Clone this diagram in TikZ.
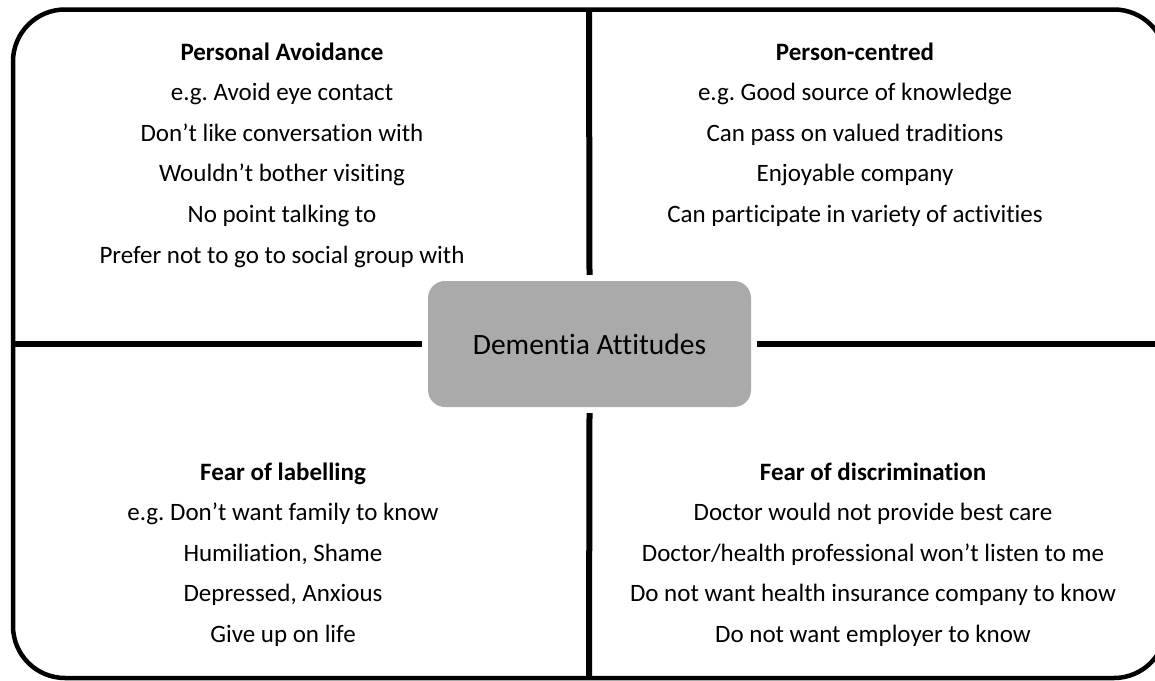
\documentclass[tikz,border=0pt]{standalone}
\usepackage{fontspec}
\setmainfont{Carlito}[Ligatures=NoCommon]
\begin{document}
\frenchspacing
\begin{tikzpicture}[x=1pt,y=-1pt,
  frame/.style={line width=4.5pt},
  divider/.style={line width=6pt},
  hub/.style={fill=hubgray, rounded corners=17pt, minimum width=323pt,
    minimum height=126pt, inner sep=0pt, font=\fontsize{29.5}{34}\selectfont},
  line/.style={anchor=base, inner sep=0pt, font=\fontsize{25}{30}\selectfont},
  head/.style={line, font=\fontsize{25}{30}\selectfont\bfseries}]
\definecolor{hubgray}{RGB}{170,170,170}
\useasboundingbox (0,0) rectangle (1155,680);
\clip (0,0) rectangle (1155,680);

% outer frame, its right side runs past the page edge
\draw[frame, rounded corners=52pt] (13,9.5) rectangle (1166,678);

% central hub
\node[hub] (c) at (589.5,344) {Dementia Attitudes};

% frame points where the dividers meet the outline
\coordinate (ftop) at (589,9.5);
\coordinate (fbot) at (589,678);
\coordinate (fleft) at (13,344);
\coordinate (fright) at (1166,344);

\draw[divider] (ftop) -- ([yshift=6pt]c.north);
\draw[divider] ([yshift=-6pt]c.south) -- (fbot);
\draw[divider] (fleft) -- ([xshift=-6pt]c.west);
\draw[divider] ([xshift=6pt]c.east) -- (fright);

% top left
\node[head] (pa0) at (282,60) {Personal Avoidance};
\node[line] (pa1) at (282,100.6) {e.g. Avoid eye contact};
\node[line] (pa2) at (282,141.2) {Don’t like conversation with};
\node[line] (pa3) at (282,181.8) {Wouldn’t bother visiting};
\node[line] (pa4) at (282,222.4) {No point talking to};
\node[line] (pa5) at (282,263) {Prefer not to go to social group with};

% top right
\node[head] (pc0) at (855,60) {Person-centred};
\node[line] (pc1) at (855,100.6) {e.g. Good source of knowledge};
\node[line] (pc2) at (855,141.2) {Can pass on valued traditions};
\node[line] (pc3) at (855,181.8) {Enjoyable company};
\node[line] (pc4) at (855,222.4) {Can participate in variety of activities};

% bottom left
\node[head] (fl0) at (283,480) {Fear of labelling};
\node[line] (fl1) at (283,520.6) {e.g. Don’t want family to know};
\node[line] (fl2) at (283,561.2) {Humiliation, Shame};
\node[line] (fl3) at (283,601.8) {Depressed, Anxious};
\node[line] (fl4) at (283,642.4) {Give up on life};

% bottom right
\node[head] (fd0) at (873,480) {Fear of discrimination};
\node[line] (fd1) at (873,520.6) {Doctor would not provide best care};
\node[line] (fd2) at (873,561.2) {Doctor/health professional won’t listen to me};
\node[line] (fd3) at (873,601.8) {Do not want health insurance company to know};
\node[line] (fd4) at (873,642.4) {Do not want employer to know};
\end{tikzpicture}
\end{document}
